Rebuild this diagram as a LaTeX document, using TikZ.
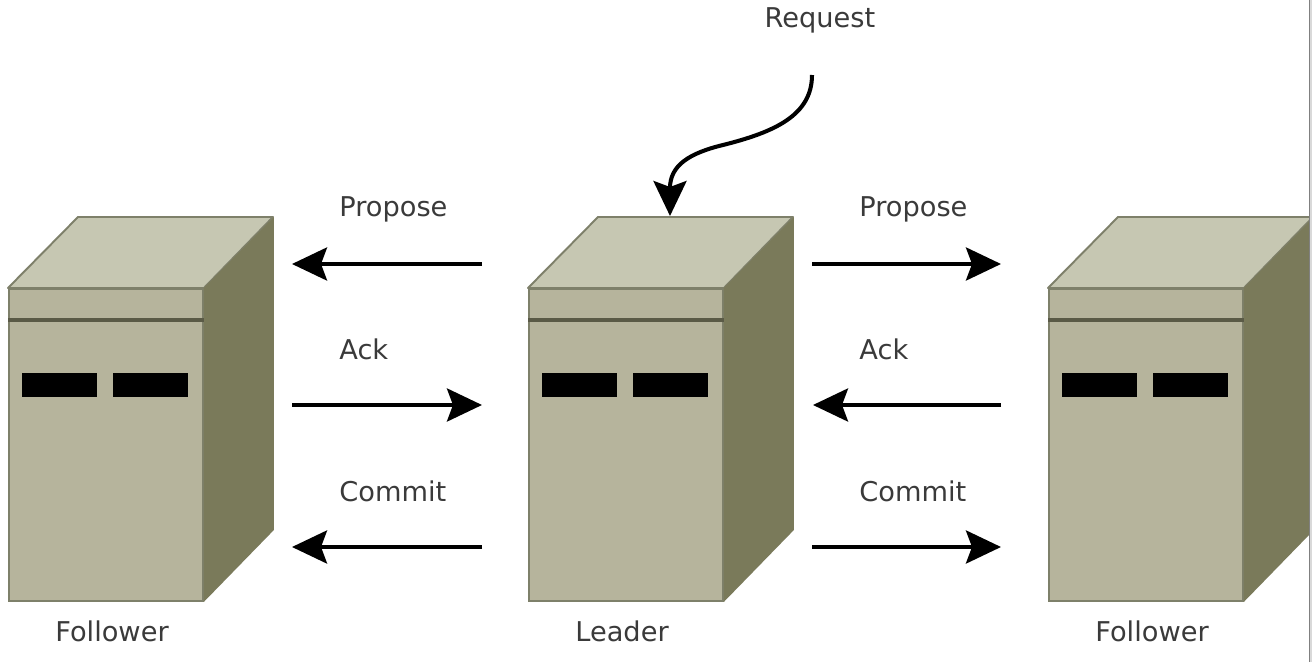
\documentclass[tikz,border=0pt]{standalone}
\usepackage{fontspec}
\setmainfont{DejaVu Sans}
\usetikzlibrary{arrows.meta}
\definecolor{roof}{HTML}{C6C7B2}
\definecolor{face}{HTML}{B6B49C}
\definecolor{flank}{HTML}{7A7A5A}
\definecolor{edge}{HTML}{7E806A}
\definecolor{slit}{HTML}{5A5A46}
\definecolor{ink}{HTML}{3A3A3A}
\begin{document}
\begin{tikzpicture}[
  x=0.02cm,y=-0.02cm,
  font=\fontsize{15.5pt}{18pt}\selectfont,
  front/.style={draw=edge,fill=face,line width=1.1pt,minimum width=3.88cm,minimum height=6.24cm,inner sep=0pt,anchor=north west},
  lamp/.style={fill=black,draw=none,minimum width=1.5cm,minimum height=0.48cm,inner sep=0pt,anchor=north west},
  msg/.style={text=ink,anchor=base west,inner sep=0pt},
  tag/.style={text=ink,anchor=base,inner sep=0pt},
  wire/.style={-{Stealth[length=0.7cm,width=0.66cm,inset=0.12cm]},line width=2.3pt,black},
]
\useasboundingbox (0,0) rectangle (1312,662);
% the three servers
\begin{scope}
\clip (0,0) rectangle (1309,662);
\foreach \name/\x in {left/8,mid/528,right/1048}{
  \node[front] (\name) at (\x,288) {};
  \fill[roof,draw=edge,line width=1.1pt,line join=round] (\name.north west) -- ++(70,-71) -- ++(195,0) -- (\name.north east) -- cycle;
  \fill[flank] (\name.north east) -- ++(70,-71) -- ++(0,313) -- (\name.south east) -- cycle;
  \draw[slit,line width=1.8pt] ([yshift=-0.64cm]\name.north west) -- ([yshift=-0.64cm]\name.north east);
  \node[lamp] (\name a) at (\x+14,373) {};
  \node[lamp] (\name b) at (\x+104.5,373) {};
}
\end{scope}
\fill[gray!30] (1310,0) rectangle (1312,662);
\coordinate (rimtop) at (1309.5,0);
\coordinate (rimend) at (1309.5,662);
\draw[gray,line width=0.8pt] (rimtop) -- (rimend);
% the messages
\coordinate (ltop) at (482,264); \coordinate (lfar) at (292,264);
\coordinate (lmidA) at (292,405); \coordinate (lmidB) at (482,405);
\coordinate (lbot) at (482,547); \coordinate (lbotfar) at (292,547);
\coordinate (rtop) at (812,264); \coordinate (rfar) at (1001,264);
\coordinate (rmidA) at (1001,405); \coordinate (rmidB) at (813,405);
\coordinate (rbot) at (812,547); \coordinate (rbotfar) at (1001,547);
\draw[wire] (ltop) -- (lfar);
\draw[wire] (lmidA) -- (lmidB);
\draw[wire] (lbot) -- (lbotfar);
\draw[wire] (rtop) -- (rfar);
\draw[wire] (rmidA) -- (rmidB);
\draw[wire] (rbot) -- (rbotfar);
\node[msg] (p1) at (339,217) {Propose};
\node[msg] (a1) at (339,359) {Ack};
\node[msg] (c1) at (339,501) {Commit};
\node[msg] (p2) at (859,217) {Propose};
\node[msg] (a2) at (859,359) {Ack};
\node[msg] (c2) at (859,501) {Commit};
% the request
\node[tag] (req) at (820,28) {Request};
\coordinate (reqstart) at (812,75);
\coordinate (reqend) at (670,216);
\draw[wire] (reqstart) .. controls (812,115) and (775,132) .. (723,145)
  .. controls (690,153) and (670,165) .. (reqend);
\node[tag] (fl) at (112,641) {Follower};
\node[tag] (ld) at (622,641) {Leader};
\node[tag] (fr) at (1152,641) {Follower};
\end{tikzpicture}
\end{document}
